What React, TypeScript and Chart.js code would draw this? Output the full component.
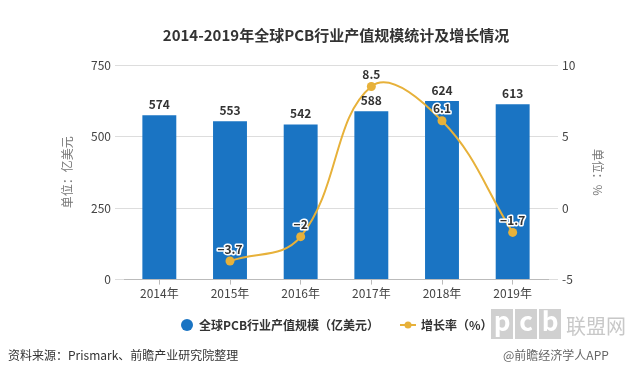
import React, { useEffect, useRef } from "react";
import { Chart, registerables } from "chart.js";

Chart.register(...registerables);

const categories = ["2014年", "2015年", "2016年", "2017年", "2018年", "2019年"];
const outputValues = [574, 553, 542, 588, 624, 613];
const growthRates = [null, -3.7, -2, 8.5, 6.1, -1.7];
const leftTicks = [0, 250, 500, 750];
const rightTicks = [-5, 0, 5, 10];
const titleText = "2014-2019年全球PCB行业产值规模统计及增长情况";
const barLabel = "全球PCB行业产值规模（亿美元）";
const lineLabel = "增长率（%）";
const leftAxisTitle = "单位：亿美元";
const rightAxisTitle = "单位：%";
const sourceText = "资料来源：Prismark、前瞻产业研究院整理";
const creditText = "@前瞻经济学人APP";

const BAR = "#1a74c3";
const LINE = "#e7b13a";
const FONT = "'Noto Sans CJK SC', 'Noto Sans', sans-serif";

const overlay = {
  id: "overlay",
  afterDatasetsDraw(chart: any) {
    const ctx = chart.ctx;
    ctx.save();
    const barMeta = chart.getDatasetMeta(0);
    ctx.font = `bold 12px ${FONT}`;
    ctx.fillStyle = "#333";
    ctx.textAlign = "center";
    ctx.textBaseline = "bottom";
    barMeta.data.forEach((el: any, i: number) => {
      ctx.fillText(String(outputValues[i]), el.x, el.y - 5);
    });
    const lineMeta = chart.getDatasetMeta(1);
    ctx.font = `bold 12px ${FONT}`;
    ctx.lineWidth = 3;
    ctx.strokeStyle = "#fff";
    ctx.lineJoin = "round";
    lineMeta.data.forEach((el: any, i: number) => {
      const v = growthRates[i];
      if (v === null) return;
      const t = String(v).replace("-", "−");
      ctx.strokeText(t, el.x, el.y - 6);
      ctx.fillStyle = "#333";
      ctx.fillText(t, el.x, el.y - 6);
    });
    ctx.restore();
  },
  afterDraw(chart: any) {
    const ctx = chart.ctx;
    ctx.save();
    ctx.font = `bold 15px ${FONT}`;
    ctx.fillStyle = "#333";
    ctx.textAlign = "center";
    ctx.textBaseline = "middle";
    ctx.fillText(titleText, 336, 35);
    ctx.beginPath();
    ctx.arc(187, 325, 6, 0, Math.PI * 2);
    ctx.fillStyle = BAR;
    ctx.fill();
    ctx.font = `bold 12px ${FONT}`;
    ctx.fillStyle = "#333";
    ctx.textAlign = "left";
    ctx.fillText(barLabel, 199, 325);
    ctx.strokeStyle = LINE;
    ctx.lineWidth = 2;
    ctx.beginPath();
    ctx.moveTo(400, 325);
    ctx.lineTo(416, 325);
    ctx.stroke();
    ctx.beginPath();
    ctx.arc(408, 325, 3.5, 0, Math.PI * 2);
    ctx.fillStyle = LINE;
    ctx.fill();
    ctx.fillStyle = "#333";
    ctx.fillText(lineLabel, 421, 325);
    ctx.font = `12px ${FONT}`;
    ctx.fillStyle = "#333";
    ctx.fillText(sourceText, 8, 355);
    const letters = ["p", "c", "b"];
    letters.forEach((l, i) => {
      const x = 491 + i * 24;
      ctx.fillStyle = "#d0d0d0";
      ctx.fillRect(x, 309, 22, 30);
      ctx.fillStyle = "#fff";
      ctx.font = `bold 26px ${FONT}`;
      ctx.textAlign = "center";
      ctx.fillText(l, x + 11, 321);
    });
    ctx.font = `20px ${FONT}`;
    ctx.fillStyle = "#c8c8c8";
    ctx.textAlign = "left";
    ctx.fillText("联盟网", 566, 326);
    ctx.font = `12px ${FONT}`;
    ctx.fillStyle = "#666";
    ctx.fillText(creditText, 503, 355);
    ctx.restore();
  },
};

export default function App() {
  const ref = useRef<HTMLCanvasElement>(null);
  useEffect(() => {
    if (!ref.current) return;
    const chart = new Chart(ref.current, {
      data: {
        labels: categories,
        datasets: [
          {
            type: "bar",
            label: barLabel,
            data: outputValues,
            backgroundColor: BAR,
            yAxisID: "y",
            categoryPercentage: 1,
            barPercentage: 0.48,
            order: 2,
          },
          {
            type: "line",
            label: lineLabel,
            data: growthRates as any,
            borderColor: LINE,
            backgroundColor: LINE,
            borderWidth: 2,
            pointRadius: 4.5,
            pointBorderWidth: 0,
            tension: 0.4,
            yAxisID: "y1",
            order: 1,
          },
        ],
      },
      options: {
        animation: false,
        responsive: false,
        layout: { padding: { top: 65, bottom: 76, left: 60, right: 38 } },
        plugins: { legend: { display: false }, tooltip: { enabled: false }, title: { display: false } },
        scales: {
          x: {
            offset: true,
            grid: { drawOnChartArea: false, drawTicks: true, tickLength: 5, offset: false, color: "#bbb" },
            border: { color: "#bbb" },
            ticks: { color: "#444", font: { family: FONT, size: 12 }, padding: 2 },
          },
          y: {
            position: "left",
            min: 0,
            max: 750,
            afterBuildTicks: (s: any) => { s.ticks = leftTicks.map((v) => ({ value: v })); },
            afterFit: (s: any) => { s.width = 64; },
            grid: { color: "#ddd", tickLength: 9 },
            border: { display: false },
            ticks: { color: "#444", font: { family: FONT, size: 12 }, padding: 4 },
            title: { display: true, text: leftAxisTitle, color: "#777", font: { family: FONT, size: 12 }, padding: 0 },
          },
          y1: {
            position: "right",
            min: -5,
            max: 10,
            afterBuildTicks: (s: any) => { s.ticks = rightTicks.map((v) => ({ value: v })); },
            afterFit: (s: any) => { s.width = 57; },
            grid: { drawOnChartArea: false, color: "#ddd", tickLength: 10 },
            border: { display: false },
            ticks: { color: "#444", font: { family: FONT, size: 12 }, padding: 4 },
            title: { display: true, text: rightAxisTitle, color: "#777", font: { family: FONT, size: 12 }, padding: 0 },
          },
        },
      },
      plugins: [overlay],
    } as any);
    return () => chart.destroy();
  }, []);
  return (
    <div style={{ position: "fixed", left: 0, top: 0, width: 643, height: 379, background: "#fff" }}>
      <canvas ref={ref} width={643} height={379} />
    </div>
  );
}
